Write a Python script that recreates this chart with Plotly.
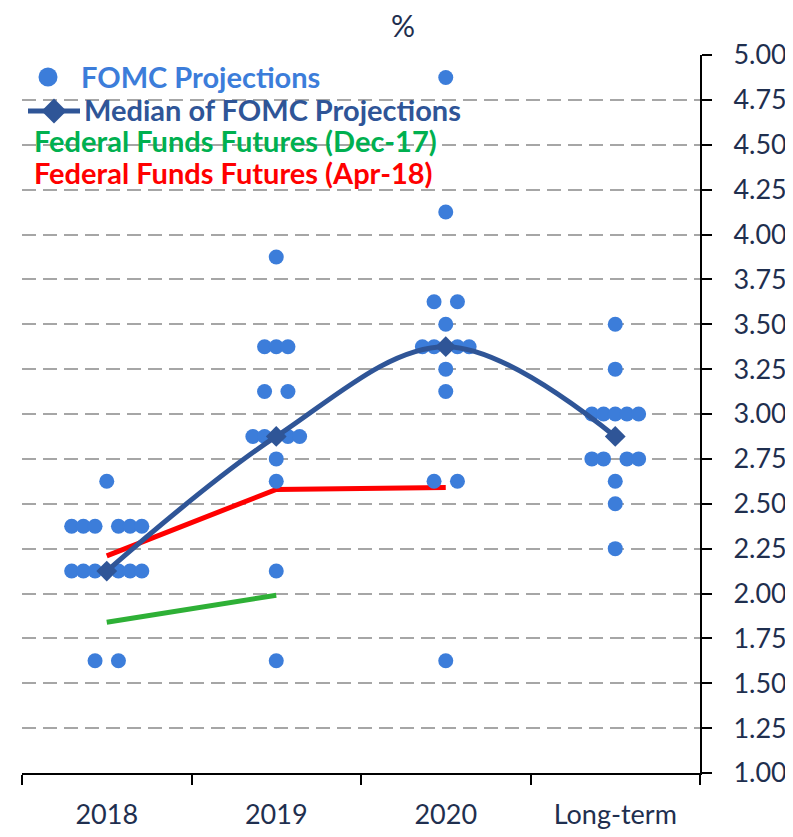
import plotly.graph_objects as go

categories = ["2018", "2019", "2020", "Long-term"]

proj_2018 = [1.625, 1.625, 2.125, 2.125, 2.125, 2.125, 2.125, 2.125,
             2.375, 2.375, 2.375, 2.375, 2.375, 2.375, 2.625]
proj_2019 = [1.625, 2.125, 2.625, 2.75, 2.875, 2.875, 2.875, 2.875,
             3.125, 3.125, 3.375, 3.375, 3.375, 3.875]
proj_2020 = [1.625, 2.625, 2.625, 3.125, 3.25, 3.375, 3.375, 3.375, 3.375,
             3.5, 3.625, 3.625, 4.125, 4.875]
proj_lr = [2.25, 2.5, 2.625, 2.75, 2.75, 2.75, 2.75, 3.0, 3.0, 3.0, 3.0, 3.0,
           3.25, 3.5]
projections = [proj_2018, proj_2019, proj_2020, proj_lr]

median_vals = [2.125, 2.875, 3.375, 2.875]
futures_dec17 = [1.84, 1.99]
futures_apr18 = [2.21, 2.58, 2.59]

y_ticks = [1.0 + 0.25 * i for i in range(17)]

DOT = "#3C7DDA"
MED = "#2F5597"
GREEN = "#2EB036"
GREEN_TXT = "#00B050"
RED = "#FF0000"
TXT = "#1F2F4F"
FONT = "Lato"

# dot-plot horizontal placement (layout only)
SPACING = 0.069
dot_x, dot_y = [], []
for ci, vals in enumerate(projections):
    rows = {}
    for v in vals:
        rows[v] = rows.get(v, 0) + 1
    for v, n in rows.items():
        if n % 2 == 1:
            offs = [k - (n - 1) / 2 for k in range(n)]
        else:
            h = n // 2
            offs = [-(h - k) for k in range(h)] + [k + 1 for k in range(h)]
        for o in offs:
            dot_x.append(ci + o * SPACING)
            dot_y.append(v)

fig = go.Figure()

fig.add_trace(go.Scatter(
    x=list(range(len(futures_dec17))), y=futures_dec17,
    mode="lines", line=dict(color=GREEN, width=5),
    name="Federal Funds Futures (Dec-17)", showlegend=False))

fig.add_trace(go.Scatter(
    x=list(range(len(futures_apr18))), y=futures_apr18,
    mode="lines", line=dict(color=RED, width=5),
    name="Federal Funds Futures (Apr-18)", showlegend=False))

fig.add_trace(go.Scatter(
    x=dot_x, y=dot_y, mode="markers",
    marker=dict(color=DOT, size=15, line=dict(width=0)),
    name="FOMC Projections", showlegend=False))

fig.add_trace(go.Scatter(
    x=list(range(len(categories))), y=median_vals,
    mode="lines+markers",
    line=dict(color=MED, width=5, shape="spline", smoothing=1.0),
    marker=dict(symbol="diamond", size=16, color=MED),
    name="Median of FOMC Projections", showlegend=False))

# page body has an 8px margin; figure sized so the plot lands where the reference has it
OFF = 8
W, H = 785, 829
L, T = 22 - OFF, 55 - OFF
pw, ph = 678, 718
R, B = W - L - pw, H - T - ph


def px2paper(xp, yp):
    xp -= OFF
    yp -= OFF
    return (xp - L) / pw, (T + ph - yp) / ph


annotations = []
ax, ay = px2paper(403, 25)
annotations.append(dict(x=ax, y=ay, xref="paper", yref="paper", text="%",
                        showarrow=False, font=dict(family=FONT, size=30, color=TXT),
                        xanchor="center", yanchor="middle"))
legend_items = [
    ("FOMC Projections", DOT, 82, 77),
    ("Median of FOMC Projections", MED, 85, 110),
    ("Federal Funds Futures (Dec-17)", GREEN_TXT, 35, 140),
    ("Federal Funds Futures (Apr-18)", RED, 35, 173),
]
for text, col, xp, yp in legend_items:
    ax, ay = px2paper(xp, yp)
    annotations.append(dict(x=ax, y=ay, xref="paper", yref="paper", text="<b>%s</b>" % text,
                            showarrow=False, font=dict(family=FONT, size=29, color=col),
                            xanchor="left", yanchor="middle", xshift=-3))

shapes = []
cx, cy = px2paper(48, 77)
r = 9.5
shapes.append(dict(type="circle", xref="paper", yref="paper",
                   x0=cx - r / pw, x1=cx + r / pw, y0=cy - r / ph, y1=cy + r / ph,
                   fillcolor=DOT, line=dict(width=0)))
x0, y0 = px2paper(28, 111)
x1, _ = px2paper(80, 111)
shapes.append(dict(type="line", xref="paper", yref="paper", x0=x0, x1=x1, y0=y0, y1=y0,
                   line=dict(color=MED, width=5)))
dx, dy = px2paper(54, 111)
hw, hh = 12.5 / pw, 12.5 / ph
shapes.append(dict(type="path", xref="paper", yref="paper",
                   path="M %f,%f L %f,%f L %f,%f L %f,%f Z" % (dx - hw, dy, dx, dy + hh, dx + hw, dy, dx, dy - hh),
                   fillcolor=MED, line=dict(width=0)))

fig.update_layout(
    width=W, height=H,
    margin=dict(l=L, r=R, t=T, b=B),
    paper_bgcolor="white", plot_bgcolor="white",
    showlegend=False,
    annotations=annotations, shapes=shapes,
    font=dict(family=FONT, color=TXT),
    xaxis=dict(
        range=[-0.5, 3.5], tickmode="array",
        tickvals=list(range(len(categories))), ticktext=categories,
        ticks="", showgrid=False, zeroline=False, automargin=False,
        showline=True, linecolor="black", linewidth=2,
        tickfont=dict(family=FONT, size=27, color=TXT),
        ticklabelstandoff=17,
        minor=dict(tickmode="array", tickvals=[-0.5, 0.5, 1.5, 2.5, 3.5],
                   ticks="outside", ticklen=10, tickwidth=2, tickcolor="black",
                   showgrid=False),
    ),
    yaxis=dict(
        range=[1, 5], side="right", tickmode="array", tickvals=y_ticks,
        tickformat=".2f", ticks="outside", ticklen=10, tickwidth=2, tickcolor="black",
        showline=True, linecolor="black", linewidth=2, automargin=False,
        showgrid=True, gridcolor="#A6A6A6", gridwidth=2, griddash="14px,7px",
        zeroline=False,
        tickfont=dict(family=FONT, size=27, color=TXT),
        ticklabelstandoff=16,
    ),
)

fig.write_html("out.html")
